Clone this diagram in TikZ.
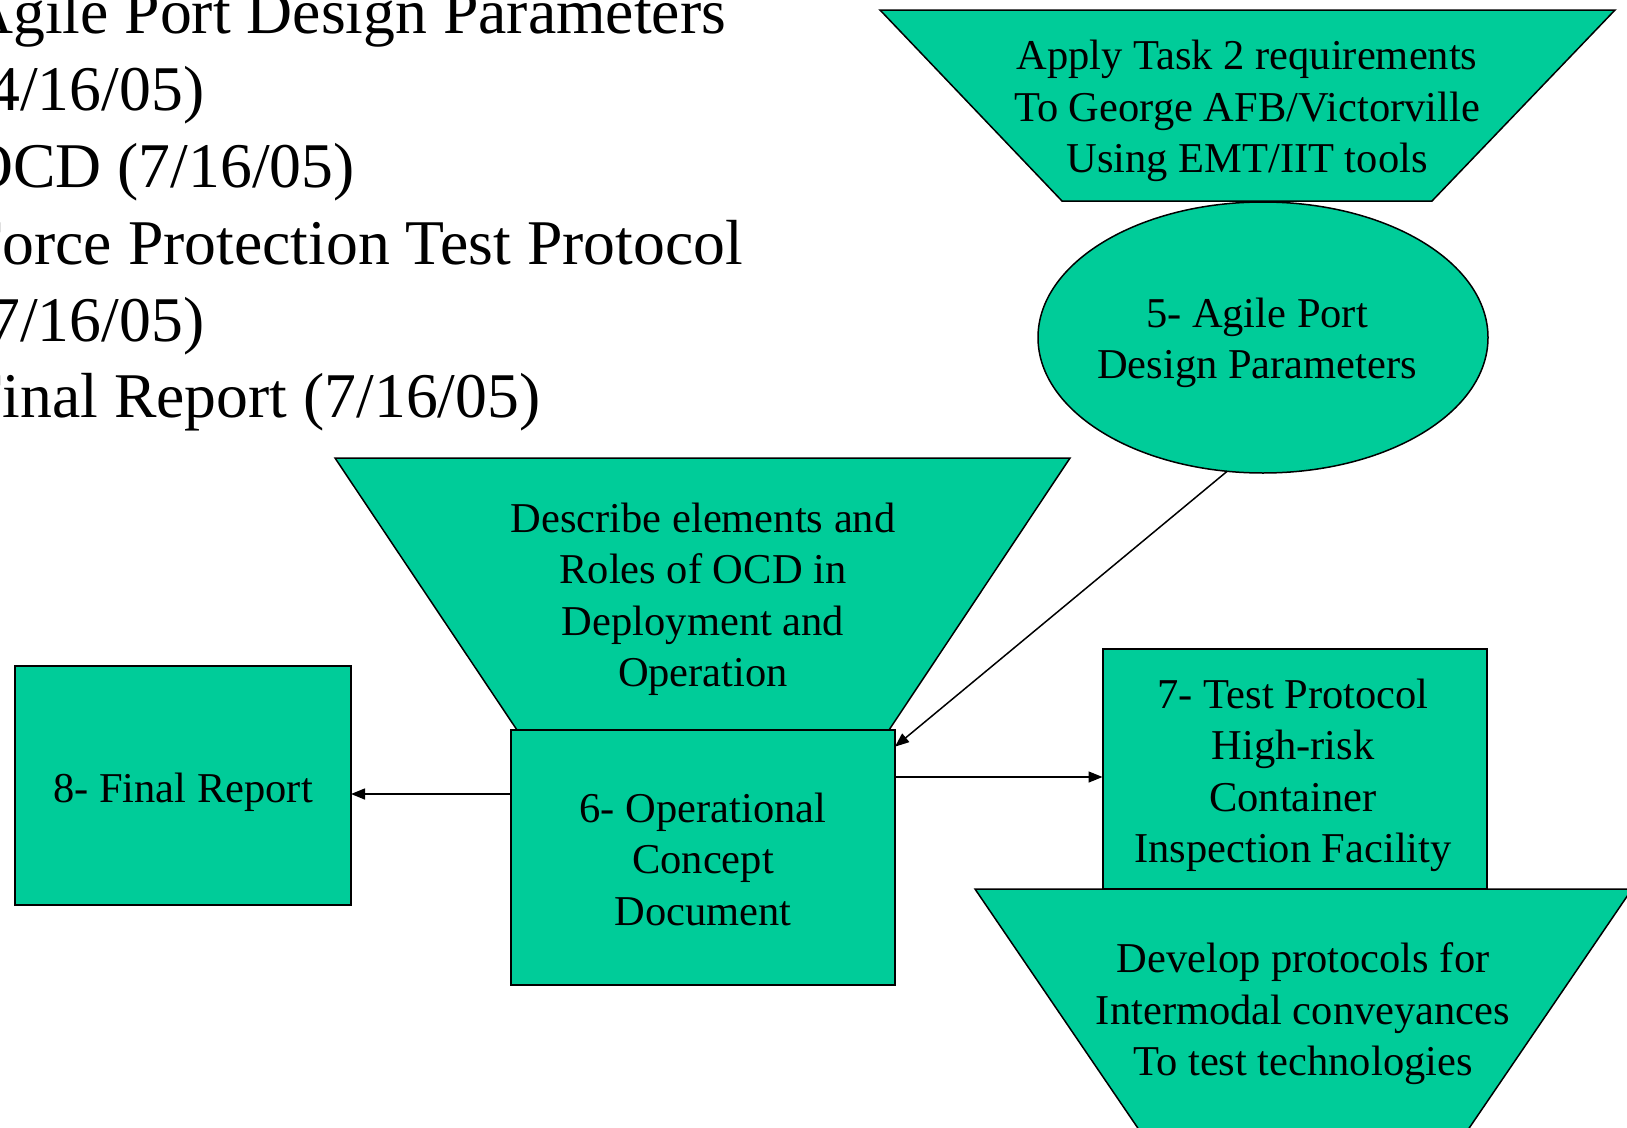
\documentclass[tikz,border=0pt]{standalone}
\usepackage{fontspec}
\setmainfont{Liberation Serif}
\usetikzlibrary{arrows.meta,shapes.geometric}
\definecolor{shapefill}{RGB}{0,204,153}
\begin{document}
\begin{tikzpicture}[x=1pt,y=-1pt,
  trap/.style={draw=black,line width=1.5pt,fill=shapefill,line join=miter},
  boxnode/.style={draw=black,line width=2pt,fill=shapefill,rectangle,inner sep=0pt,outer sep=0pt},
  ellnode/.style={draw=black,line width=1.5pt,fill=shapefill,ellipse,inner sep=0pt,outer sep=0pt},
  lbl/.style={font=\fontsize{42.5}{51.5}\selectfont,align=center,inner sep=0pt},
  arr/.style={line width=1.5pt,-{Triangle[length=14pt,width=11pt]}}]
\useasboundingbox[fill=white] (0,0) rectangle (1627,1127);

% top-left list
\node[font=\fontsize{63.7}{76.8}\selectfont,align=left,anchor=north west,inner sep=0pt] (list) at (-33,-10.5)
  {Agile Port Design Parameters\\(4/16/05)\\OCD (7/16/05)\\Force Protection Test Protocol\\(7/16/05)\\Final Report (7/16/05)};

% top trapezoid
\path[trap] (880,10) -- (1615,10) -- (1432,201) -- (1062,201) -- cycle;
\node[lbl] (t2) at (1247,111) {Apply Task 2 requirements\\To George AFB/Victorville\\Using EMT/IIT tools};

% ellipse 5
\node[ellnode,minimum width=450pt,minimum height=271pt] (e5) at (1263,337.5) {};
\node[lbl] (t5) at (1257,343) {5- Agile Port\\Design Parameters};

% middle trapezoid
\path[trap] (335,458) -- (1070,458) -- (889,730) -- (517,730) -- cycle;
\node[lbl] (t6) at (703,599.5) {Describe elements and\\Roles of OCD in\\Deployment and\\Operation};

% box 6
\node[boxnode,minimum width=384pt,minimum height=255pt] (b6) at (703,857.5) {};
\node[lbl] (l6) at (703,859) {6- Operational\\Concept\\Document};

% box 8
\node[boxnode,minimum width=336.5pt,minimum height=239pt] (b8) at (182.75,785.5) {};
\node[lbl] (l8) at (183,792) {8- Final Report};

% box 7
\node[boxnode,minimum width=384.5pt,minimum height=240pt] (b7) at (1294.75,769) {};
\node[lbl] (l7) at (1293,775.5) {7- Test Protocol\\High-risk\\Container\\Inspection Facility};

% bottom trapezoid
\path[trap] (975,889) -- (1632,889) -- (1461,1140) -- (1146,1140) -- cycle;
\node[lbl] (t7) at (1303,1014) {Develop protocols for\\Intermodal conveyances\\To test technologies};

% connectors
\draw[arr] (e5.255.8) -- (b6.30.4);
\draw[arr] ([yshift=80.5pt]b6.east) -- ([yshift=80.5pt]b6.east -| b7.west);
\draw[arr] ([yshift=63.5pt]b6.west) -- ([yshift=63.5pt]b6.west -| b8.east);
\end{tikzpicture}
\end{document}
